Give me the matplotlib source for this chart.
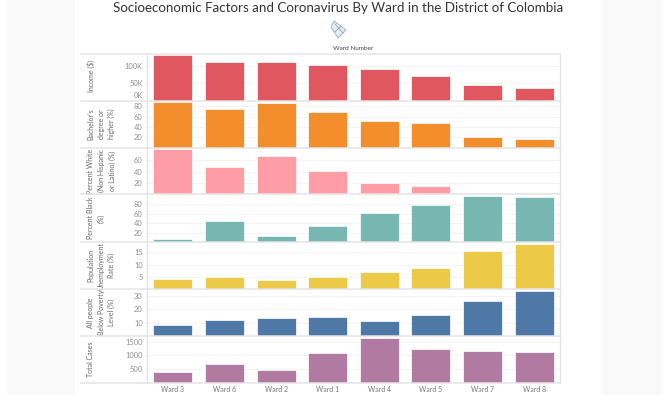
import matplotlib
matplotlib.use("Agg")
import matplotlib.pyplot as plt
from matplotlib.patches import Rectangle, Polygon
from matplotlib.transforms import ScaledTranslation

plt.rcParams['font.family'] = ['Lato', 'DejaVu Sans']

W, H = 670, 395
wards = ["Ward 3", "Ward 6", "Ward 2", "Ward 1", "Ward 4", "Ward 5", "Ward 7", "Ward 8"]

income = [130500, 111500, 111500, 103000, 90500, 70500, 43500, 35500]
bachelor = [87.5, 74.6, 85.3, 69.3, 51.2, 46.6, 20.2, 16.9]
white = [79.3, 48.2, 67.6, 41.6, 20, 15.2, 2.2, 3.1]
black = [6.8, 43.4, 13.1, 32.9, 60.2, 77.6, 96.6, 93.9]
unemployment = [4.2, 5.0, 3.6, 5.1, 6.9, 8.4, 15.5, 18.5]
poverty = [8.1, 12.1, 13.4, 13.9, 11.3, 15.6, 26.5, 34.1]
cases = [402, 682, 475, 1098, 1647, 1219, 1146, 1109]

labels = ["Income ($)", "Bachelor's\ndegree or\nhigher (%)", "Percent White\n(Non Hispanic\nor Latino) (%)",
          "Percent Black\n(%)", "Population\nUnemployment\nRate (%)", "All people\nBelow Poverty\nLevel (%)", "Total Cases"]
series = [income, bachelor, white, black, unemployment, poverty, cases]
colors = ["#e1575f", "#f28e2b", "#ff9da7", "#76b7b2", "#edc948", "#4e79a7", "#b07aa1"]
tops = [136000, 91, 82.5, 100.4, 19.2, 35.4, 1722]
ticks = [[0, 50000, 100000], [20, 40, 60, 80], [20, 40, 60], [20, 40, 60, 80],
         [5, 10, 15], [10, 20, 30], [500, 1000, 1500]]
ticklabels = [["0K", "50K", "100K"], ["20", "40", "60", "80"], ["20", "40", "60"], ["20", "40", "60", "80"],
              ["5", "10", "15"], ["10", "20", "30"], ["500", "1000", "1500"]]
edges = [53.5, 100.5, 147.5, 194.4, 242, 289, 335.7, 382.7]

fig = plt.figure(figsize=(W / 100, H / 100), dpi=100, facecolor="white")

def fx(x):
    return x / W

def fy(y):
    return 1 - y / H

# page background strips
for x0, x1 in [(7, 75), (602, 662)]:
    fig.patches.append(Rectangle((fx(x0), 0), fx(x1 - x0), 1, transform=fig.transFigure,
                                 facecolor="#f9f9f9", edgecolor="none", zorder=-5))

PL, PR = 147, 560
LINE = "#e4e4e4"
for i, vals in enumerate(series):
    top, bot = edges[i], edges[i + 1]
    ax = fig.add_axes([fx(PL), fy(bot), fx(PR - PL), (bot - top) / H])
    ax.set_facecolor("none")
    ax.bar(range(8), vals, width=0.755, color=colors[i], edgecolor="white", linewidth=0.5, zorder=3)
    ax.set_xlim(-0.5, 7.5)
    ax.set_ylim(0, tops[i])
    ax.set_yticks(ticks[i])
    ax.set_yticklabels(ticklabels[i])
    ax.tick_params(axis="y", length=0, labelsize=5.4, labelcolor="#8f8f8f", pad=3)
    ax.grid(axis="y", color="#f3f3f3", linewidth=0.7, zorder=0)
    ax.set_axisbelow(True)
    for s in ("top", "bottom"):
        ax.spines[s].set_visible(False)
    ax.spines["left"].set_color(LINE)
    ax.spines["right"].set_color(LINE)
    ax.spines["left"].set_linewidth(1)
    ax.spines["right"].set_linewidth(1)
    if i == 0:
        # the 0K label sits above the baseline
        for t in ax.get_yticklabels():
            if t.get_text() == "0K":
                t.set_verticalalignment("bottom")
                t.set_transform(t.get_transform() + ScaledTranslation(0, 1 / 100, fig.dpi_scale_trans))
    if i == len(series) - 1:
        ax.set_xticks(range(8))
        ax.set_xticklabels(wards)
        ax.tick_params(axis="x", length=0, labelsize=5, labelcolor="#777777", pad=2.5)
    else:
        ax.set_xticks([])
    fig.text(fx(87.5), fy((top + bot) / 2 - (0 if i != 0 else 1)), labels[i], rotation=90, ha="left", va="center",
             fontsize=5, color="#666666", linespacing=1.55, multialignment="center")

# panel rules, spanning the label column as well
for j, y in enumerate(edges):
    fig.add_artist(plt.Line2D([fx(81), fx(PR)], [fy(y), fy(y)], color=LINE,
                              linewidth=1.1, transform=fig.transFigure, zorder=6))

fig.text(fx(338), fy(8.5), "Socioeconomic Factors and Coronavirus By Ward in the District of Colombia",
         ha="center", va="center", fontsize=9.6, color="#333333")
fig.text(fx(353), fy(48.5), "Ward Number", ha="center", va="center", fontsize=4.6, color="#444444")

# small map emblem of the District
fig.add_artist(Polygon([(fx(x), fy(y)) for x, y in [(334, 21), (346, 30), (338, 38), (333, 30), (331, 27)]],
                       closed=True, transform=fig.transFigure, facecolor="#e4edf1", edgecolor="#9fb8c6", linewidth=0.7))
fig.add_artist(plt.Line2D([fx(335), fx(343)], [fy(24), fy(33)], color="#8296a3", linewidth=0.5,
                          transform=fig.transFigure))
fig.add_artist(plt.Line2D([fx(341), fx(335)], [fy(26), fy(32)], color="#8296a3", linewidth=0.5,
                          transform=fig.transFigure))

fig.savefig("out.png", dpi=100, facecolor="white")
